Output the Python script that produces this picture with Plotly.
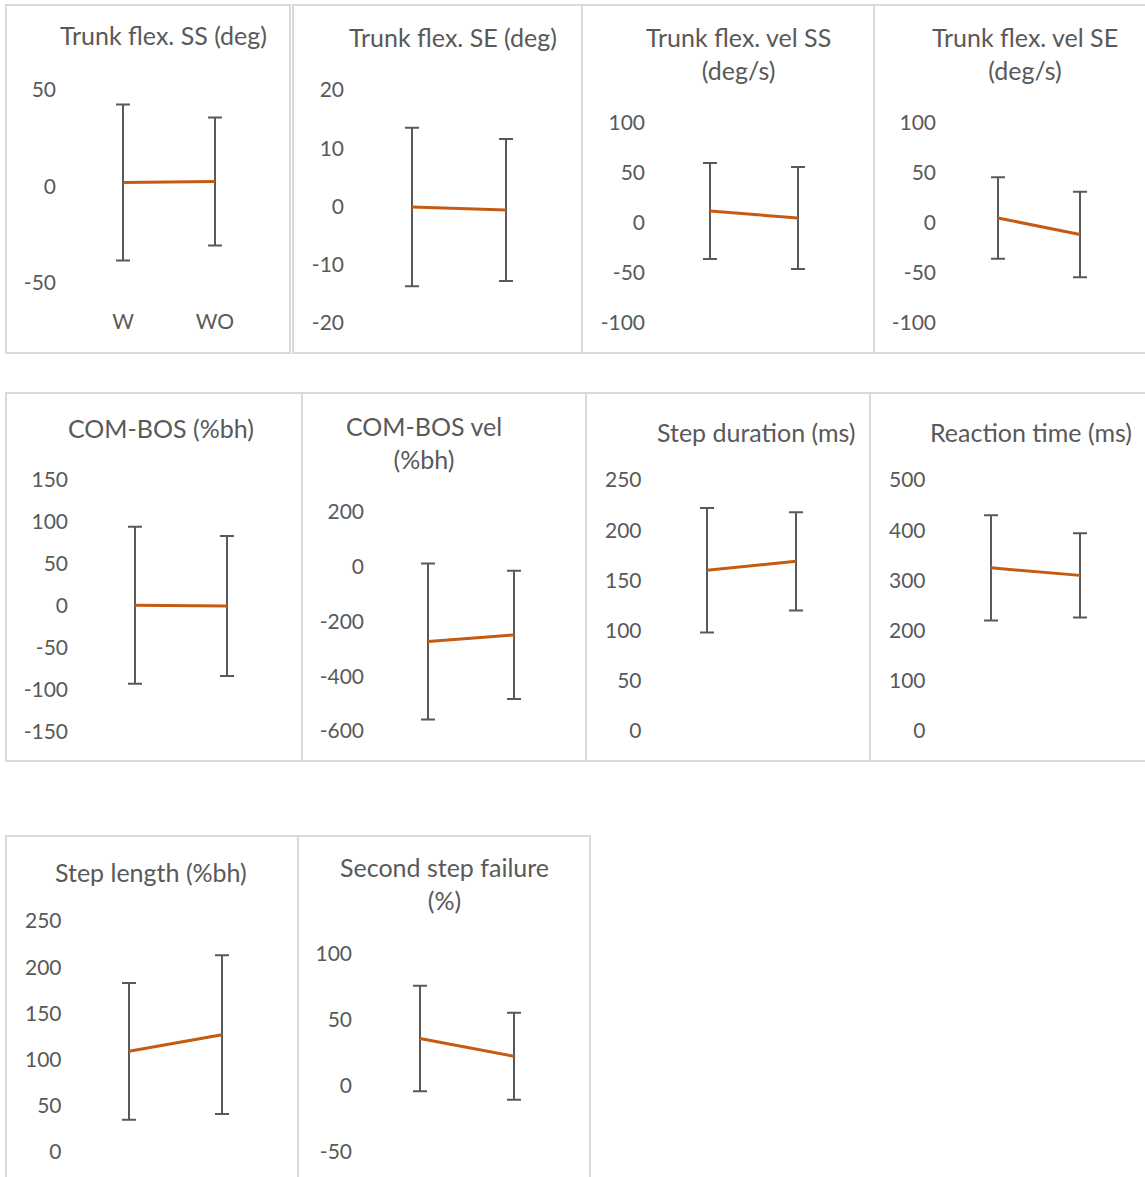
import plotly.graph_objects as go

W, H = 1145, 1177

# ---------------- data ----------------
categories = ["W", "WO"]
titles = [
    "Trunk flex. SS (deg)", "Trunk flex. SE (deg)", "Trunk flex. vel SS<br>(deg/s)", "Trunk flex. vel SE<br>(deg/s)",
    "COM-BOS (%bh)", "COM-BOS vel<br>(%bh)", "Step duration (ms)", "Reaction time (ms)",
    "Step length (%bh)", "Second step failure<br>(%)",
]
mean_w = [2.1, -0.1, 12, 5, 0.8, -273, 160, 325, 109, 36]
mean_wo = [2.6, -0.6, 5, -11.5, 0, -249, 169, 310, 127, 22.5]
err_w = [40.4, 13.6, 48, 40.8, 93.5, 285, 62, 105, 74, 40]
err_wo = [33.2, 12.2, 51, 42.8, 83.3, 234, 49, 84, 86, 33]
yticks = [
    [-50, 0, 50], [-20, -10, 0, 10, 20], [-100, -50, 0, 50, 100], [-100, -50, 0, 50, 100],
    [-150, -100, -50, 0, 50, 100, 150], [-600, -400, -200, 0, 200], [0, 50, 100, 150, 200, 250],
    [0, 100, 200, 300, 400, 500], [0, 50, 100, 150, 200, 250], [-50, 0, 50, 100],
]

# ---------------- geometry (pixels) ----------------
# x of W, x of WO, y pixel of top tick, y pixel of bottom tick, title center x, title center y
geom = [
    (123, 215, 90, 283, 163, 35),
    (412, 506, 90, 323, 453, 37),
    (710, 798, 123, 323, 738, 53),
    (998, 1080, 123, 323, 1025, 53),
    (135, 227, 480, 732, 161, 428),
    (428, 514, 512, 731, 424, 442),
    (707, 796, 480, 731, 756, 432),
    (991, 1080, 480, 731, 1031, 432),
    (129, 222, 921, 1152, 151, 872),
    (420, 514, 954, 1152, 444, 883),
]
boxes = [
    (6, 5, 290, 353), (293, 5, 582, 353), (582, 5, 874, 353), (874, 5, 1150, 353),
    (6, 393, 302, 761), (302, 393, 586, 761), (586, 393, 870, 761), (870, 393, 1150, 761),
    (6, 836, 298, 1190), (298, 836, 590, 1190),
]

FONT = "Lato"
GREY = "#595959"
ORANGE = "#C55A11"

fig = go.Figure()
annotations = []
shapes = []

for i in range(len(titles)):
    xw, xwo, pt, pb, tx, ty = geom[i]
    d = xwo - xw
    xdom = [(xw - d / 2) / W, (xwo + d / 2) / W]
    ydom = [1 - pb / H, 1 - pt / H]
    suffix = "" if i == 0 else str(i + 1)
    fig.add_trace(go.Scatter(
        x=categories, y=[mean_w[i], mean_wo[i]],
        mode="lines",
        line=dict(color=ORANGE, width=3),
        error_y=dict(type="data", array=[err_w[i], err_wo[i]], color=GREY, thickness=2, width=7),
        xaxis="x" + suffix, yaxis="y" + suffix,
        showlegend=False, hoverinfo="skip",
    ))
    fig.update_layout(**{
        "xaxis" + suffix: dict(
            domain=xdom, anchor="y" + suffix, type="category", range=[-0.5, 1.5],
            showgrid=False, zeroline=False, showline=False, ticks="",
            showticklabels=(i == 0), ticklabelstandoff=24, automargin=False,
            tickfont=dict(family=FONT, size=21, color=GREY),
        ),
        "yaxis" + suffix: dict(
            domain=ydom, anchor="x" + suffix, range=[yticks[i][0], yticks[i][-1]],
            tickvals=yticks[i], ticktext=[str(v) for v in yticks[i]],
            showgrid=False, zeroline=False, showline=False, ticks="",
            ticklabelstandoff=20, automargin=False,
            tickfont=dict(family=FONT, size=21, color=GREY),
        ),
    })
    annotations.append(dict(
        text=titles[i], x=tx / W, y=1 - ty / H, xref="paper", yref="paper",
        xanchor="center", yanchor="middle", showarrow=False,
        font=dict(family=FONT, size=25, color=GREY),
    ))

for (x0, y0, x1, y1) in boxes:
    shapes.append(dict(
        type="rect", xref="paper", yref="paper",
        x0=x0 / W, x1=x1 / W, y0=1 - y1 / H, y1=1 - y0 / H,
        line=dict(color="#D9D9D9", width=2), fillcolor="rgba(0,0,0,0)", layer="below",
    ))

fig.update_layout(
    width=W, height=H, margin=dict(l=0, r=0, t=0, b=0, autoexpand=False),
    paper_bgcolor="white", plot_bgcolor="rgba(0,0,0,0)",
    annotations=annotations, shapes=shapes,
)

fig.write_html("out.html")
